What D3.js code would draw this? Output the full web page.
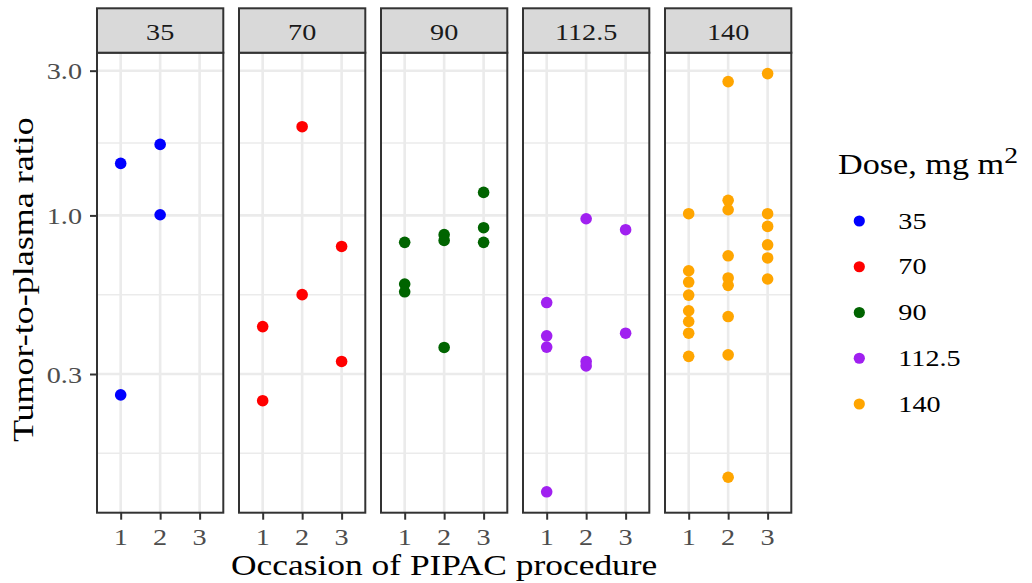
<!DOCTYPE html>
<html>
<head>
<meta charset="utf-8">
<script src="https://cdn.jsdelivr.net/npm/d3@7"></script>
<style>
  body { margin: 0; background: #ffffff; }
  svg text { font-family: "Liberation Serif", "Times New Roman", serif; }
</style>
</head>
<body>
<div id="chart"></div>
<script>
// facets / legend
const doses = ["35", "70", "90", "112.5", "140"];
const doseColors = ["#0000FF", "#FF0000", "#006400", "#A020F0", "#FFA500"];
const occasions = ["1", "2", "3"];
const yBreaks = [0.3, 1, 3];

// occasion + tumor-to-plasma ratio per dose
const occ35 = [1, 1, 2, 2];
const ratio35 = [1.484, 0.256, 1.714, 1.005];

const occ70 = [1, 1, 2, 2, 3, 3];
const ratio70 = [0.430, 0.245, 1.961, 0.548, 0.790, 0.330];

const occ90 = [1, 1, 1, 2, 2, 2, 3, 3, 3];
const ratio90 = [0.815, 0.594, 0.560, 0.864, 0.827, 0.367, 1.191, 0.911, 0.815];

const occ112 = [1, 1, 1, 1, 2, 2, 2, 3, 3];
const ratio112 = [0.516, 0.401, 0.368, 0.1227, 0.975, 0.330, 0.319, 0.897, 0.409];

const occ140 = [1, 1, 1, 1, 1, 1, 1, 1,
                2, 2, 2, 2, 2, 2, 2, 2, 2,
                3, 3, 3, 3, 3, 3];
const ratio140 = [1.013, 0.657, 0.603, 0.546, 0.485, 0.447, 0.409, 0.343,
                  2.761, 1.121, 1.044, 0.736, 0.622, 0.588, 0.464, 0.347, 0.137,
                  2.934, 1.013, 0.920, 0.800, 0.724, 0.617];

const occByDose = [occ35, occ70, occ90, occ112, occ140];
const ratioByDose = [ratio35, ratio70, ratio90, ratio112, ratio140];

const WIDTH = 1032;
const HEIGHT = 583;

const PANEL_LEFT = 97;
const PANEL_RIGHT = 791.3;
const STRIP_TOP = 8.3;
const PANEL_TOP = 52.7;
const PANEL_BOTTOM = 512.7;

const SX = 1.2; // glyphs in the reference are wider than Liberation Serif

const GRID = "#EBEBEB";
const DARK = "#333333";

let points = [];
doses.forEach((d, i) => {
  occByDose[i].forEach((o, j) => {
    points.push({ dose: d, occasion: String(o), ratio: ratioByDose[i][j] });
  });
});

let svg = d3.select("#chart")
  .append("svg")
  .attr("width", WIDTH)
  .attr("height", HEIGHT);

// scales
let fx = d3.scaleBand()
  .domain(doses)
  .range([PANEL_LEFT, PANEL_RIGHT])
  .paddingInner(0.1106);

let pw = fx.bandwidth();

let x = d3.scalePoint()
  .domain(occasions)
  .range([0, pw])
  .padding(0.6);

let logExt = d3.extent(points, d => Math.log10(d.ratio));
let pad = (logExt[1] - logExt[0]) * 0.05;
let y = d3.scaleLog()
  .domain([Math.pow(10, logExt[0] - pad), Math.pow(10, logExt[1] + pad)])
  .range([PANEL_BOTTOM, PANEL_TOP]);

let color = d3.scaleOrdinal().domain(doses).range(doseColors);

// minor breaks halfway (in log space) between majors, ggplot style
let lb = yBreaks.map(Math.log10);
let step = lb[1] - lb[0];
let ext = [lb[0] - step].concat(lb, [lb[lb.length - 1] + step]);
let yMinor = [];
for (let k = 0; k < ext.length - 1; k++) {
  let m = Math.pow(10, (ext[k] + ext[k + 1]) / 2);
  if (m > y.domain()[0] && m < y.domain()[1]) yMinor.push(m);
}

function addText(g, str, tx, ty, size, anchor, fill, rotate) {
  return g.append("text")
    .attr("transform", "translate(" + tx + "," + ty + ")" + (rotate ? " rotate(-90)" : "") + " scale(" + SX + ",1)")
    .attr("text-anchor", anchor)
    .attr("fill", fill)
    .style("font-size", size + "px")
    .text(str);
}

doses.forEach((dose, i) => {
  let g = svg.append("g").attr("transform", "translate(" + fx(dose) + ",0)");

  g.append("rect")
    .attr("x", 0).attr("y", PANEL_TOP)
    .attr("width", pw).attr("height", PANEL_BOTTOM - PANEL_TOP)
    .attr("fill", "#FFFFFF");

  // grid
  g.selectAll(".minor")
    .data(yMinor)
    .enter()
    .append("line")
    .attr("x1", 0).attr("x2", pw)
    .attr("y1", d => y(d)).attr("y2", d => y(d))
    .attr("stroke", GRID)
    .attr("stroke-width", 1.4);

  g.selectAll(".hmajor")
    .data(yBreaks)
    .enter()
    .append("line")
    .attr("x1", 0).attr("x2", pw)
    .attr("y1", d => y(d)).attr("y2", d => y(d))
    .attr("stroke", GRID)
    .attr("stroke-width", 2.6);

  g.selectAll(".vmajor")
    .data(occasions)
    .enter()
    .append("line")
    .attr("x1", d => x(d)).attr("x2", d => x(d))
    .attr("y1", PANEL_TOP).attr("y2", PANEL_BOTTOM)
    .attr("stroke", GRID)
    .attr("stroke-width", 2.6);

  // points
  g.selectAll(".pt")
    .data(points.filter(p => p.dose === dose))
    .enter()
    .append("circle")
    .attr("cx", d => x(d.occasion))
    .attr("cy", d => y(d.ratio))
    .attr("r", 5.8)
    .attr("fill", d => color(d.dose));

  // border
  g.append("rect")
    .attr("x", 0).attr("y", PANEL_TOP)
    .attr("width", pw).attr("height", PANEL_BOTTOM - PANEL_TOP)
    .attr("fill", "none")
    .attr("stroke", DARK)
    .attr("stroke-width", 2);

  // strip
  g.append("rect")
    .attr("x", 0).attr("y", STRIP_TOP)
    .attr("width", pw).attr("height", PANEL_TOP - STRIP_TOP)
    .attr("fill", "#D9D9D9")
    .attr("stroke", DARK)
    .attr("stroke-width", 2);
  addText(g, dose, pw / 2, 40.3, 23.5, "middle", "#1A1A1A", false);

  // x axis
  let xAxis = d3.axisBottom(x).tickSize(7).tickSizeOuter(0).tickFormat("");
  let ax = g.append("g")
    .attr("transform", "translate(0," + PANEL_BOTTOM + ")")
    .call(xAxis);
  ax.select(".domain").remove();
  ax.selectAll("line").attr("stroke", DARK).attr("stroke-width", 2);
  occasions.forEach(o => addText(g, o, x(o), 544.5, 23.5, "middle", "#4D4D4D", false));

  // y axis on the first panel only
  if (i === 0) {
    let yAxis = d3.axisLeft(y).tickValues(yBreaks).tickSize(7).tickFormat("");
    let ay = g.append("g").call(yAxis);
    ay.select(".domain").remove();
    ay.selectAll("line").attr("stroke", DARK).attr("stroke-width", 2);
    yBreaks.forEach(b => addText(g, d3.format(".1f")(b), -15, y(b) + 8.6, 23.5, "end", "#4D4D4D", false));
  }
});

// axis titles
addText(svg, "Occasion of PIPAC procedure", (PANEL_LEFT + PANEL_RIGHT) / 2, 574.5, 29.5, "middle", "#000000", false);
addText(svg, "Tumor-to-plasma ratio", 33, (PANEL_TOP + PANEL_BOTTOM) / 2 - 3, 30, "middle", "#000000", true);

// legend
let legend = svg.append("g");
let title = legend.append("text")
  .attr("transform", "translate(838,174.3) scale(" + SX + ",1)")
  .attr("fill", "#000000")
  .style("font-size", "28.5px");
title.append("tspan").text("Dose, mg m");
title.append("tspan").attr("dy", -11.5).style("font-size", "23px").text("2");

let legY = d3.scalePoint().domain(doses).range([221, 404]);
doses.forEach(d => {
  legend.append("circle")
    .attr("cx", 859.3)
    .attr("cy", legY(d))
    .attr("r", 5.6)
    .attr("fill", color(d));
  addText(legend, d, 898.3, legY(d) + 7.6, 23.5, "start", "#000000", false);
});
</script>
</body>
</html>
